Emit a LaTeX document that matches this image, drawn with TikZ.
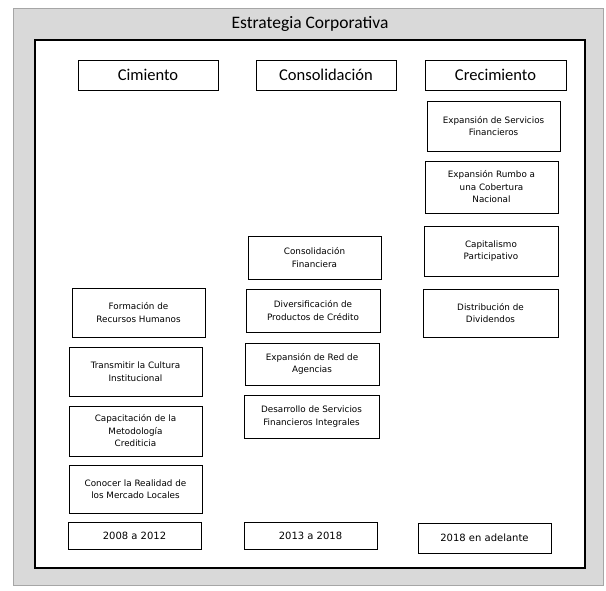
\documentclass[tikz,border=0pt]{standalone}
\usepackage{fontspec}
\setmainfont{Carlito}
\newfontfamily\chica{DejaVu Sans}
\usetikzlibrary{positioning}

\tikzset{
  caja/.style={draw=black, line width=0.8pt, fill=white, align=center,
    font=\chica\fontsize{8.8}{12.5}\selectfont, inner sep=1pt},
  cabeza/.style={draw=black, line width=0.9pt, fill=white,
    minimum width=140pt, minimum height=30pt, font=\fontsize{16.5}{18}\selectfont},
  periodo/.style={caja, font=\chica\fontsize{10}{12}\selectfont, minimum width=133pt, minimum height=27pt}
}

\begin{document}
\begin{tikzpicture}[x=1pt,y=-1pt]
\useasboundingbox (0,0) rectangle (606,591);
\fill[white] (0,0) rectangle (606,591);
% marco exterior
\fill[gray!30, draw=gray!70, line width=0.6pt] (13,8) rectangle (603,585);
\node[font=\fontsize{17.5}{20}\selectfont] (titulo) at (310,24) {Estrategia Corporativa};
\draw[line width=2.4pt, fill=white] (35,40) rectangle (585,568);

% cabeceras
\node[cabeza] (cim) at (148,75) {Cimiento};
\node[cabeza] (con) at (326,75) {Consolidación};
\node[cabeza, minimum width=141pt] (cre) at (495.5,75) {Crecimiento};

% crecimiento
\node[caja, minimum width=133pt, minimum height=50pt] (esf) at (493.5,126) {Expansión de Servicios\\Financieros};
\node[caja, minimum width=133pt, minimum height=52pt] (erc) at (491.5,187) {Expansión Rumbo a\\una Cobertura\\Nacional};
\node[caja, minimum width=134pt, minimum height=50pt] (cpa) at (491,251) {Capitalismo\\Participativo};
\node[caja, minimum width=135pt, minimum height=48pt] (ddi) at (490.5,313) {Distribución de\\Dividendos};

% consolidacion
\node[caja, minimum width=133pt, minimum height=43pt] (cfi) at (314.5,257.5) {Consolidación\\Financiera};
\node[caja, minimum width=134pt, minimum height=43pt] (dpc) at (313,310.5) {Diversificación de\\Productos de Crédito};
\node[caja, minimum width=134pt, minimum height=42pt] (era) at (312,364) {Expansión de Red de\\Agencias};
\node[caja, minimum width=135pt, minimum height=43pt] (dsf) at (311.5,416.5) {Desarrollo de Servicios\\Financieros Integrales};

% cimiento
\node[caja, minimum width=133pt, minimum height=49pt] (frh) at (138.5,312.5) {Formación de\\Recursos Humanos};
\node[caja, minimum width=133pt, minimum height=49pt] (tci) at (135.5,371.5) {Transmitir la Cultura\\Institucional};
\node[caja, minimum width=133pt, minimum height=50pt] (cmc) at (135.5,431) {Capacitación de la\\Metodología\\Crediticia};
\node[caja, minimum width=133pt, minimum height=48pt] (crm) at (135.5,489) {Conocer la Realidad de\\los Mercado Locales};

% periodos
\node[periodo] (p1) at (134.5,535.5) {2008 a 2012};
\node[periodo] (p2) at (310.5,535.5) {2013 a 2018};
\node[periodo, minimum height=30pt] (p3) at (484.5,538) {2018 en adelante};
\end{tikzpicture}
\end{document}
